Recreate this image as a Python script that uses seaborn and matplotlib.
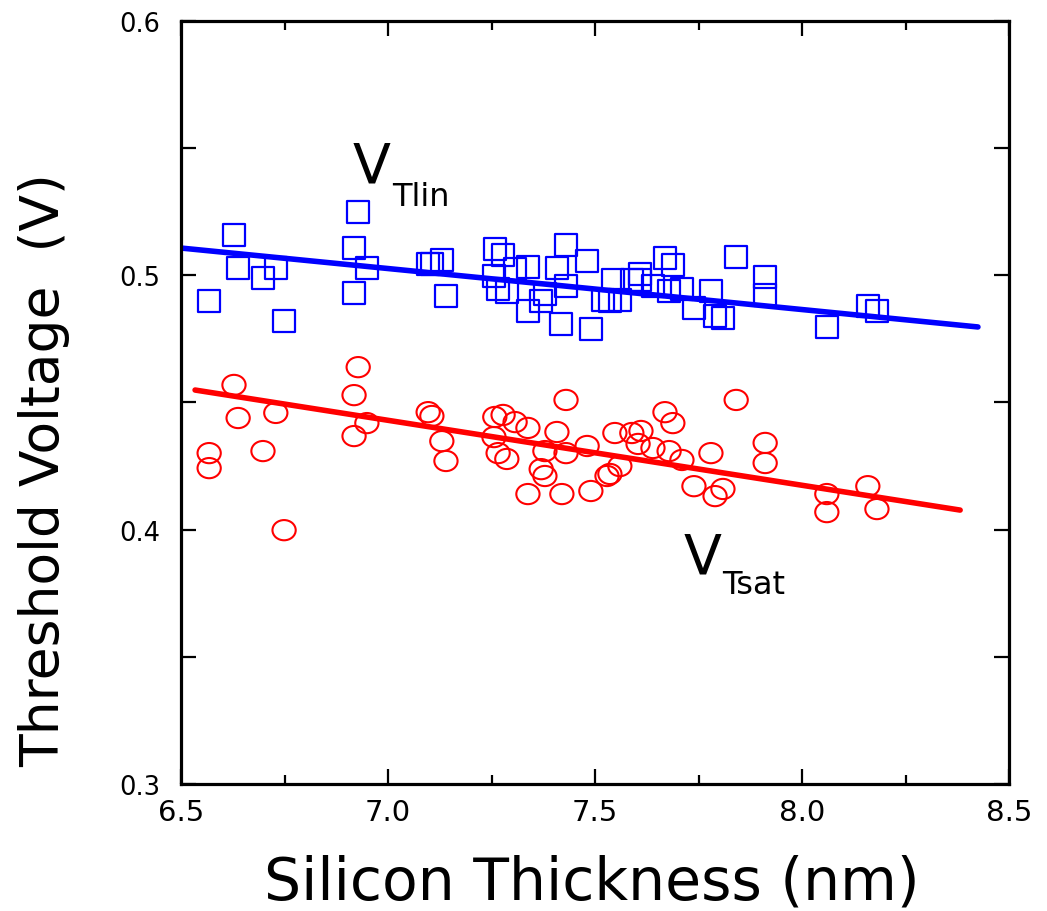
import numpy as np
import matplotlib
matplotlib.use("Agg")
import matplotlib.pyplot as plt
import matplotlib.path as mpath
from matplotlib.transforms import Affine2D
from matplotlib.ticker import MultipleLocator, FormatStrFormatter
import seaborn as sns

# ---------------- data ----------------
vtlin_x = [6.568, 6.628, 6.638, 6.698, 6.729, 6.749, 6.928, 6.918, 6.949, 6.918,
           7.097, 7.106, 7.130, 7.140, 7.258, 7.278, 7.256, 7.266, 7.287, 7.307,
           7.338, 7.338, 7.370, 7.379, 7.408, 7.430, 7.430, 7.418, 7.481, 7.490,
           7.543, 7.536, 7.560, 7.519, 7.589, 7.609, 7.609, 7.640, 7.669, 7.688,
           7.679, 7.710, 7.739, 7.780, 7.790, 7.809, 7.841, 7.911, 7.911, 8.060,
           8.159, 8.181]
vtlin_y = [0.4899, 0.5158, 0.5029, 0.4989, 0.5029, 0.4820, 0.5249, 0.5107, 0.5029, 0.4930,
           0.5044, 0.5044, 0.5060, 0.4919, 0.5103, 0.5080, 0.4997, 0.4946, 0.4934, 0.5025,
           0.5033, 0.4860, 0.4899, 0.4926, 0.5029, 0.5119, 0.4958, 0.4808, 0.5056, 0.4789,
           0.4982, 0.4899, 0.4903, 0.4903, 0.4982, 0.5005, 0.4982, 0.4958, 0.5068, 0.5041,
           0.4938, 0.4946, 0.4871, 0.4938, 0.4840, 0.4832, 0.5072, 0.4993, 0.4923, 0.4797,
           0.4879, 0.4860]

vtsat_x = [6.568, 6.568, 6.628, 6.638, 6.698, 6.729, 6.749, 6.928, 6.918, 6.949,
           6.918, 7.097, 7.106, 7.130, 7.140, 7.258, 7.278, 7.256, 7.266, 7.287,
           7.307, 7.338, 7.338, 7.370, 7.379, 7.379, 7.408, 7.430, 7.430, 7.420,
           7.481, 7.490, 7.529, 7.536, 7.560, 7.548, 7.589, 7.611, 7.604, 7.640,
           7.669, 7.688, 7.679, 7.710, 7.739, 7.780, 7.790, 7.809, 7.841, 7.911,
           7.911, 8.060, 8.060, 8.159, 8.181]
vtsat_y = [0.4301, 0.4242, 0.4569, 0.4439, 0.4309, 0.4459, 0.3998, 0.4639, 0.4529, 0.4419,
           0.4368, 0.4462, 0.4447, 0.4348, 0.4270, 0.4443, 0.4451, 0.4364, 0.4301, 0.4278,
           0.4423, 0.4400, 0.4140, 0.4238, 0.4211, 0.4309, 0.4384, 0.4510, 0.4301, 0.4140,
           0.4329, 0.4152, 0.4211, 0.4219, 0.4250, 0.4380, 0.4380, 0.4388, 0.4337, 0.4321,
           0.4462, 0.4419, 0.4309, 0.4274, 0.4171, 0.4301, 0.4132, 0.4160, 0.4510, 0.4341,
           0.4262, 0.4140, 0.4069, 0.4171, 0.4081]

fit_lin_x = [6.502, 8.425]
fit_lin_y = [0.5107, 0.4797]
fit_sat_x = [6.534, 8.382]
fit_sat_y = [0.4549, 0.4077]

x_ticks = [6.5, 7.0, 7.5, 8.0, 8.5]
y_ticks = [0.3, 0.4, 0.5, 0.6]

# ---------------- styling ----------------
sns.set_theme(style="ticks")
plt.rcParams["font.family"] = ["DejaVu Sans"]
plt.rcParams["text.color"] = "black"

fig = plt.figure(figsize=(10.47, 9.12), dpi=100)
ax = fig.add_axes([181 / 1047, 1 - 785 / 912, (1009 - 181) / 1047, (785 - 22) / 912])

ellipse = mpath.Path.unit_circle().transformed(Affine2D().scale(1.0, 0.87))

sns.lineplot(x=fit_lin_x, y=fit_lin_y, color="#0000ff", linewidth=4.0,
             solid_capstyle="round", ax=ax)
sns.lineplot(x=fit_sat_x, y=fit_sat_y, color="#ff0000", linewidth=4.0,
             solid_capstyle="round", ax=ax)

sns.scatterplot(x=vtlin_x, y=vtlin_y, marker="s", s=255, color="#0000ff",
                linewidth=1.6, ax=ax)
sc1 = ax.collections[-1]
sc1.set_facecolor("none")
sc1.set_edgecolor("#0000ff")

sns.scatterplot(x=vtsat_x, y=vtsat_y, marker=ellipse, s=280, color="#ff0000",
                linewidth=1.5, ax=ax)
sc2 = ax.collections[-1]
sc2.set_facecolor("none")
sc2.set_edgecolor("#ff0000")

ax.set_xlim(6.5, 8.5)
ax.set_ylim(0.3, 0.6)
ax.set_xticks(x_ticks)
ax.set_yticks(y_ticks)
ax.xaxis.set_minor_locator(MultipleLocator(0.25))
ax.yaxis.set_minor_locator(MultipleLocator(0.05))
ax.xaxis.set_major_formatter(FormatStrFormatter("%.1f"))
ax.yaxis.set_major_formatter(FormatStrFormatter("%.1f"))

ax.tick_params(which="both", direction="in", top=True, right=True, width=1.6,
               color="black", labelcolor="black")
ax.tick_params(axis="x", which="major", length=11, pad=10, labelsize=21)
ax.tick_params(axis="x", which="minor", length=6.5)
ax.tick_params(axis="y", which="both", length=11)
ax.tick_params(axis="y", which="major", pad=15, labelsize=18.5)

for sp in ax.spines.values():
    sp.set_linewidth(2.3)
    sp.set_color("black")
ax.set_xlabel("")
ax.set_ylabel("")

# axis titles
fig.text(592 / 1047, 1 - 900 / 912, "Silicon Thickness (nm)", ha="center",
         va="baseline", fontsize=42, color="black")
fig.text(44 / 1047, 1 - 470 / 912, "Threshold Voltage  (V)", ha="center",
         va="center", rotation=90, fontsize=38.5, color="black")

# curve labels
ax.text(6.915, 0.5367, "V", fontsize=40, ha="left", va="baseline", color="black")
ax.text(7.010, 0.5276, "Tlin", fontsize=23, ha="left", va="baseline", color="black")
ax.text(7.713, 0.3833, "V", fontsize=40, ha="left", va="baseline", color="black")
ax.text(7.807, 0.3751, "Tsat", fontsize=23, ha="left", va="baseline", color="black")

fig.savefig("out.png", dpi=100)
